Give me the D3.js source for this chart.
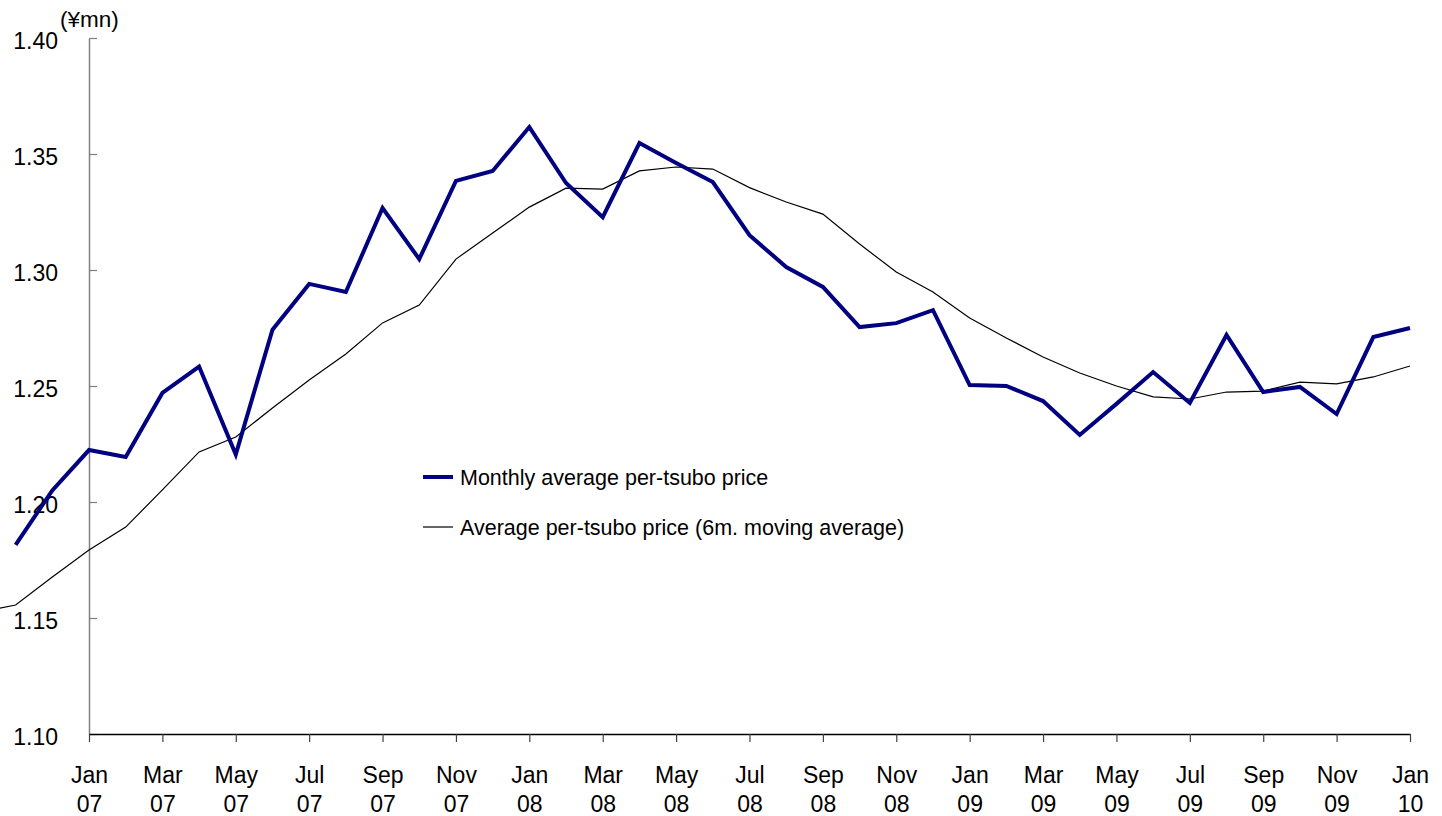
<!DOCTYPE html>
<html>
<head>
<meta charset="utf-8">
<script src="https://cdn.jsdelivr.net/npm/d3@7"></script>
<style>
  body { margin: 0; background: #fff; }
  svg { display: block; font-family: "Liberation Sans", Arial, sans-serif; }
</style>
</head>
<body>
<div id="chart-area"></div>
<script>
// monthly average per-tsubo price (Nov 06 .. Jan 10), in ¥mn
var monthlyStart = "Nov 06";
var monthly = [1.1815, 1.2050,
  1.2224, 1.2194, 1.2470, 1.2584, 1.2205, 1.2743, 1.2940, 1.2905, 1.3267, 1.3047, 1.3384, 1.3427,
  1.3616, 1.3375, 1.3228, 1.3547, 1.3461, 1.3379, 1.3150, 1.3013, 1.2927, 1.2754, 1.2771, 1.2827,
  1.2504, 1.2500, 1.2435, 1.2289, 1.2423, 1.2560, 1.2427, 1.2720, 1.2474, 1.2496, 1.2379, 1.2711,
  1.2750];

// 6 month moving average (Oct 06 .. Jan 10)
var avgStart = "Oct 06";
var movingAvg = [1.1524, 1.1556, 1.1677,
  1.1793, 1.1892, 1.2052, 1.2216, 1.2280, 1.2405, 1.2526, 1.2638, 1.2772, 1.2849, 1.3047, 1.3159,
  1.3271, 1.3353, 1.3349, 1.3427, 1.3444, 1.3435, 1.3355, 1.3293, 1.3241, 1.3112, 1.2991, 1.2905,
  1.2793, 1.2707, 1.2625, 1.2556, 1.2500, 1.2453, 1.2444, 1.2474, 1.2478, 1.2517, 1.2509, 1.2539,
  1.2586];

var xTickLabels = ["Jan 07", "Mar 07", "May 07", "Jul 07", "Sep 07", "Nov 07",
  "Jan 08", "Mar 08", "May 08", "Jul 08", "Sep 08", "Nov 08",
  "Jan 09", "Mar 09", "May 09", "Jul 09", "Sep 09", "Nov 09", "Jan 10"];
var yTicks = [1.10, 1.15, 1.20, 1.25, 1.30, 1.35, 1.40];

var seriesNames = ["Monthly average per-tsubo price", "Average per-tsubo price (6m. moving average)"];

var parse = d3.timeParse("%b %y");
// month number counted from Jan 07 (category axis, equal spacing)
function monthIdx(s) {
  var d = parse(s);
  return (d.getFullYear() - 2007) * 12 + d.getMonth();
}

var svg = d3.select("#chart-area")
    .append("svg")
    .attr("width", 1442)
    .attr("height", 816);

let x = d3.scaleLinear().domain([0, 36]).range([89, 1410]);
let y = d3.scaleLinear().domain([1.10, 1.40]).range([734, 38]);

// y axis - ticks point inside, labels on the left
let yAxis = d3.axisLeft(y)
    .tickValues(yTicks)
    .tickFormat(d3.format(".2f"))
    .tickSizeInner(-8)
    .tickSizeOuter(0)
    .tickPadding(31);

let gy = svg.append("g").attr("transform", "translate(89,0)").call(yAxis);
gy.select(".domain").attr("stroke", "#808080").attr("stroke-width", 1.5);
gy.selectAll(".tick line").attr("stroke", "#808080").attr("stroke-width", 1.2);
gy.selectAll(".tick text")
    .attr("font-size", 23)
    .attr("font-family", "Liberation Sans, Arial, sans-serif")
    .attr("fill", "#000")
    .attr("dy", 10.5);

// x axis
let xAxis = d3.axisBottom(x)
    .tickValues(xTickLabels.map(monthIdx))
    .tickSizeInner(8)
    .tickSizeOuter(0)
    .tickFormat(() => "");

let gx = svg.append("g").attr("transform", "translate(0,734)").call(xAxis);
gx.select(".domain").attr("stroke", "#000").attr("stroke-width", 1.3);
gx.selectAll(".tick line").attr("stroke", "#404040").attr("stroke-width", 1.2);

gx.selectAll(".tick text").remove();
gx.selectAll(".tick").each(function (d, i) {
  let parts = xTickLabels[i].split(" ");
  let t = d3.select(this).append("text")
      .attr("fill", "#000")
      .attr("font-size", 23)
      .attr("font-family", "Liberation Sans, Arial, sans-serif")
      .attr("text-anchor", "middle");
  t.append("tspan").attr("x", 0).attr("y", 49).text(parts[0]);
  t.append("tspan").attr("x", 0).attr("y", 78).text(parts[1]);
});

// unit label
svg.append("text")
    .attr("x", 60)
    .attr("y", 27)
    .attr("font-size", 22.5)
    .text("(¥mn)");

// lines
let line = d3.line()
    .x(d => x(d.m))
    .y(d => y(d.v));

let avgData = movingAvg.map((v, i) => ({m: monthIdx(avgStart) + i, v: v}));
let monData = monthly.map((v, i) => ({m: monthIdx(monthlyStart) + i, v: v}));

svg.append("path")
    .datum(avgData)
    .attr("d", line)
    .attr("fill", "none")
    .attr("stroke", "#000")
    .attr("stroke-width", 1.2);

svg.append("path")
    .datum(monData)
    .attr("d", line)
    .attr("fill", "none")
    .attr("stroke", "#000080")
    .attr("stroke-width", 4)
    .attr("stroke-linejoin", "miter");

// legend
let legend = svg.append("g").attr("transform", "translate(423,477)");
let styles = [{c: "#000080", w: 4}, {c: "#000", w: 1.2}];
seriesNames.forEach((name, i) => {
  let g = legend.append("g").attr("transform", "translate(0," + (i * 50) + ")");
  g.append("line")
      .attr("x1", 0).attr("x2", 30)
      .attr("y1", 0).attr("y2", 0)
      .attr("stroke", styles[i].c)
      .attr("stroke-width", styles[i].w);
  g.append("text")
      .attr("x", 37)
      .attr("y", 8)
      .attr("font-size", 21.5)
      .text(name);
});
</script>
</body>
</html>
